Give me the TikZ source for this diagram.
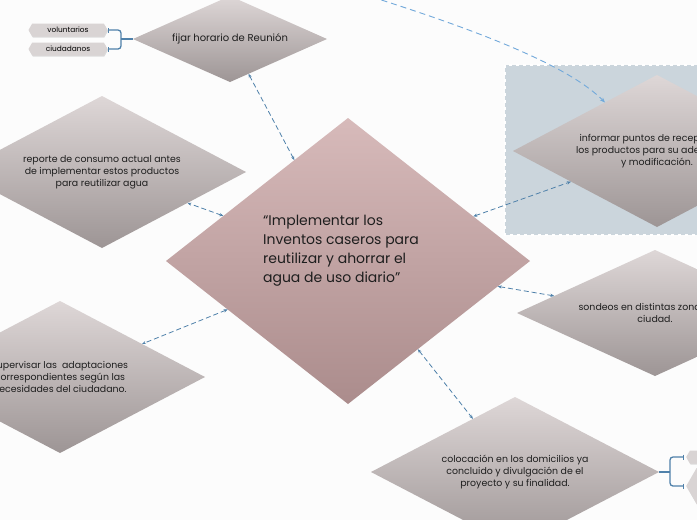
\documentclass[tikz,border=0pt]{standalone}
\usepackage{fontspec}
\setmainfont{Poppins}
\usetikzlibrary{shapes.geometric,shapes.symbols,arrows.meta,shadows}

\definecolor{linkblue}{HTML}{4F81AA}
\definecolor{curveblue}{HTML}{72A9DA}
\definecolor{maintop}{HTML}{D7BABA}
\definecolor{mainbot}{HTML}{AB8C8C}
\definecolor{subtop}{HTML}{DED7D7}
\definecolor{subbot}{HTML}{9D9595}
\definecolor{pillgray}{HTML}{D9D4D4}
\definecolor{stampbg}{HTML}{CBD5DC}
\definecolor{inktext}{HTML}{1E1E1E}

\begin{document}
\begin{tikzpicture}[x=1pt,y=-1pt]
  \clip (0,0) rectangle (697,520);
  \fill[white!98!gray] (0,0) rectangle (697,520);

  \tikzset{
    topic/.style={diamond,inner sep=0pt,outer sep=0pt,text=inktext,
      align=center,top color=subtop,bottom color=subbot,
      font=\fontsize{9.4}{12.2}\selectfont},
    maintopic/.style={topic,top color=maintop,bottom color=mainbot},
    pill/.style={signal,signal to=west and east,signal pointer angle=120,
      fill=pillgray,inner sep=0pt,minimum width=79pt,minimum height=13pt,
      drop shadow={opacity=0.25,shadow xshift=0.6pt,shadow yshift=-1pt},
      font=\fontsize{7.4}{8}\selectfont},
    link/.style={draw=linkblue,line width=0.8pt,dash pattern=on 5pt off 3pt,
      arrows={Stealth[length=4pt,width=3.2pt]-Stealth[length=4pt,width=3.2pt]}},
    brk/.style={draw=linkblue,line width=1.3pt,rounded corners=3pt}
  }

  % dotted frame behind the right topic
  \fill[stampbg] (505,65) rectangle (720,235);
  \draw[white,line width=2.4pt,dash pattern=on 3pt off 4pt] (505,65) rectangle (720,235);

  \node[maintopic,shape aspect=1.27,minimum width=364pt,minimum height=286pt] (main) at (348,261) {};
  \node[text=inktext,align=left,font=\fontsize{14}{19}\selectfont] (maintext) at (341,251)
    {“Implementar los\\Inventos caseros para\\reutilizar y ahorrar el\\agua de uso diario”};

  \node[topic,shape aspect=2.26,minimum width=194pt,minimum height=86pt,
    font=\fontsize{10}{12}\selectfont] (fijar) at (230,39) {fijar horario de Reunión};
  \node[topic,shape aspect=1.9,minimum width=288pt,minimum height=152pt] (reporte) at (102,172)
    {reporte de consumo actual antes\\de implementar estos productos\\para reutilizar agua};
  \node[topic,shape aspect=1.9,minimum width=288pt,minimum height=152pt] (informar) at (657,151)
    {informar puntos de recepción de\\los productos para su adecuación\\y modificación.};
  \node[topic,shape aspect=2.19,minimum width=276pt,minimum height=126pt] (sondeos) at (655,313)
    {sondeos en distintas zonas de la\\ciudad.};
  \node[topic,shape aspect=1.9,minimum width=290pt,minimum height=152pt] (supervisar) at (60,377)
    {supervisar las \ adaptaciones\\correspondientes según las\\necesidades del ciudadano.};
  \node[topic,shape aspect=1.92,minimum width=288pt,minimum height=150pt] (colocacion) at (515,472)
    {colocación en los domicilios ya\\concluido y divulgación de el\\proyecto y su finalidad.};

  \node[pill] (voluntarios) at (68,30) {voluntarios};
  \node[pill] (ciudadanos) at (68,49) {ciudadanos};
  \node[pill,anchor=west] (extraA) at (686,457) {};
  \node[pill,anchor=west,minimum height=36pt] (extraB) at (686,486) {};

  \coordinate (fijarbrk) at (121,39);
  \coordinate (colocbrk) at (670,472);
  \draw[brk,arrows={Bar[width=5pt]-Bar[width=5pt]}] (voluntarios.east) -| (fijarbrk) |- (ciudadanos.east);
  \draw[brk] (fijarbrk) -- (fijar.west);
  \draw[brk,arrows={Bar[width=5pt]-Bar[width=5pt]}] ([xshift=-2pt]extraA.west) -| (colocbrk) |- ([xshift=-2pt]extraB.west);
  \draw[brk] (colocbrk) -- (colocacion.east);

  \draw[link] (main) -- (fijar);
  \draw[link] (main) -- (reporte);
  \draw[link] (main) -- (informar);
  \draw[link] (main) -- (sondeos);
  \draw[link] (main) -- (supervisar);
  \draw[link] (main) -- (colocacion);

  \coordinate (curvefrom) at (372,-3);
  \draw[draw=curveblue,line width=0.9pt,dash pattern=on 6pt off 4pt,-{Stealth[length=5pt,width=4pt]}]
    (curvefrom) .. controls (460,25) and (565,62) .. (informar.137);
\end{tikzpicture}
\end{document}
